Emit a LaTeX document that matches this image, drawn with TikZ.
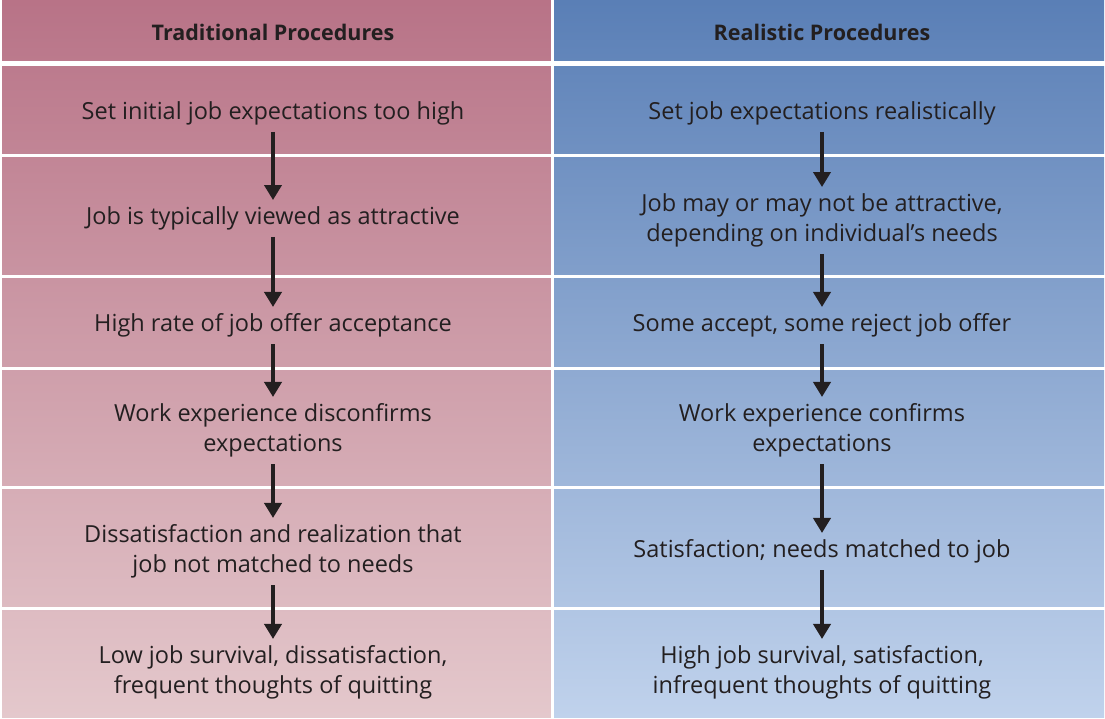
\documentclass[tikz,border=0pt]{standalone}
\usepackage{fontspec}
\setmainfont{Open Sans}
\usetikzlibrary{arrows.meta}
\definecolor{pinkTop}{RGB}{184,115,135}
\definecolor{pinkBot}{RGB}{228,200,204}
\definecolor{blueTop}{RGB}{90,127,182}
\definecolor{blueBot}{RGB}{192,210,236}
\definecolor{ink}{RGB}{35,31,32}
\begin{document}
\begin{tikzpicture}[
		x=1pt, y=-1pt,
		T/.style = {text=ink, align=center, inner sep=2pt,% text in the cells
			font=\fontsize{23.5}{30}\selectfont},
		H/.style = {T, font=\fontsize{21.5}{26}\selectfont\bfseries},% column heads
		A/.style = {-{Triangle[width=17pt,length=15pt]}, line width=4pt,
			draw=ink, shorten <=5pt, shorten >=4pt},
		G/.style = {white, line width=#1},% white gaps between cells
		G/.default=3pt,
		]
		\useasboundingbox[fill=white] (0,0) rectangle (1105,719);
		\shade[top color=pinkTop, bottom color=pinkBot] (2,1) rectangle (552.5,717);
		\shade[top color=blueTop, bottom color=blueBot] (552.5,1) rectangle (1104,717);
		\draw[G] (552.5,0) -- (552.5,719);
		\draw[G=5pt] (0,63.5) -- (1105,63.5);
		\foreach \y in {155.5,276.5,368,487.5,608.5}% <-- row borders
		\draw[G] (0,\y) -- (1105,\y);
		% heads
		\node[H] (HL) at (273,32) {Traditional Procedures};
		\node[H] (HR) at (822,32) {Realistic Procedures};
		% traditional
		\node[T] (L1) at (273,113) {Set initial job expectations too high};
		\node[T] (L2) at (273,218) {Job is typically viewed as attractive};
		\node[T] (L3) at (273,325) {High rate of job offer acceptance};
		\node[T] (L4) at (273,430) {Work experience disconfirms\\expectations};
		\node[T] (L5) at (273,551) {Dissatisfaction and realization that\\job not matched to needs};
		\node[T] (L6) at (273,672) {Low job survival, dissatisfaction,\\frequent thoughts of quitting};
		% realistic
		\node[T] (R1) at (822,113) {Set job expectations realistically};
		\node[T] (R2) at (822,220) {Job may or may not be attractive,\\depending on individual’s needs};
		\node[T] (R3) at (822,325) {Some accept, some reject job offer};
		\node[T] (R4) at (822,430) {Work experience confirms\\expectations};
		\node[T] (R5) at (822,551) {Satisfaction; needs matched to job};
		\node[T] (R6) at (822,672) {High job survival, satisfaction,\\infrequent thoughts of quitting};
		\foreach \a/\b in {1/2,2/3,3/4,4/5,5/6}{
			\draw[A] (L\a) -- (L\b);
			\draw[A] (R\a) -- (R\b);
		}
\end{tikzpicture}
\end{document}
